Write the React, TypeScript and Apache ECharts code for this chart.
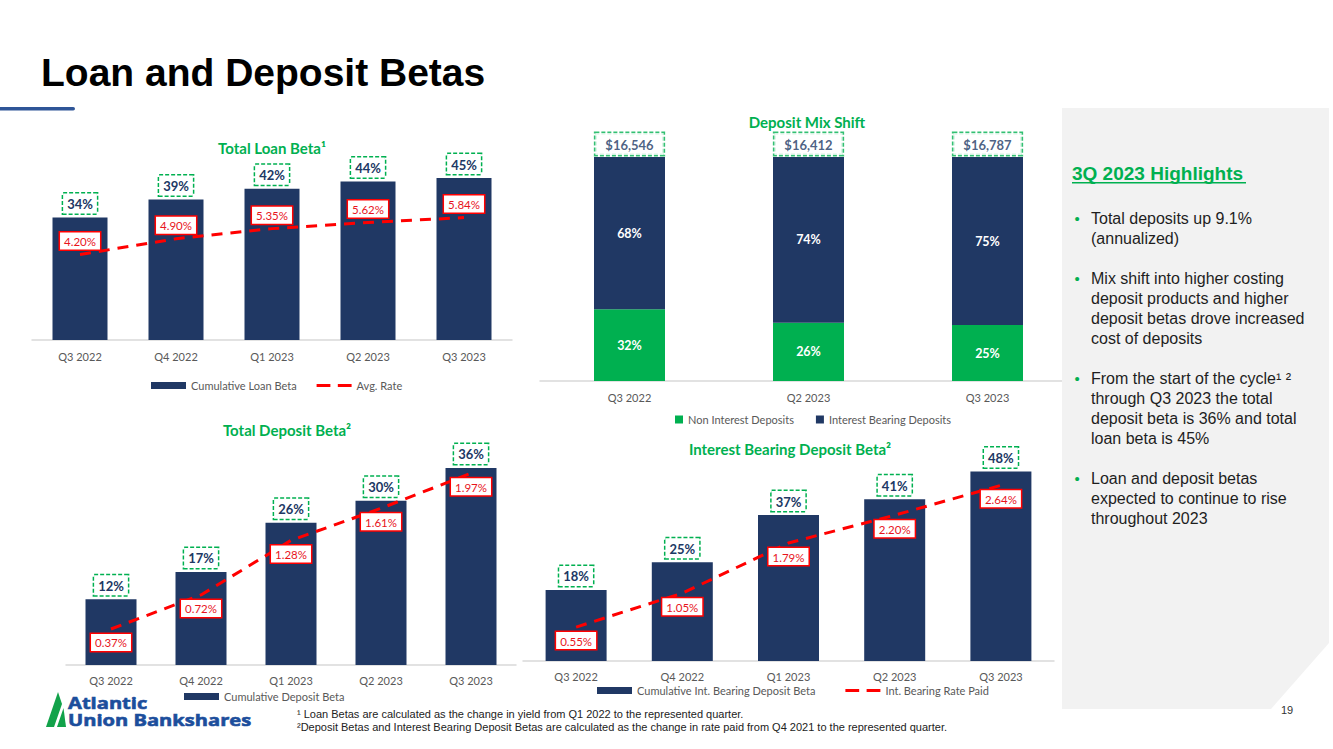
import React, { useEffect, useRef } from 'react';
import * as echarts from 'echarts';

// ---------- data ----------
const quarters = ['Q3 2022', 'Q4 2022', 'Q1 2023', 'Q2 2023', 'Q3 2023'];
const mixQuarters = ['Q3 2022', 'Q2 2023', 'Q3 2023'];

const loanBeta = [34, 39, 42, 44, 45];
const loanAvgRate = [4.2, 4.9, 5.35, 5.62, 5.84];

const nonInterestPct = [32, 26, 25];
const interestBearingPct = [68, 74, 75];
const depositTotals = [16546, 16412, 16787];

const depositBeta = [12, 17, 26, 30, 36];
const depositRatePaid = [0.37, 0.72, 1.28, 1.61, 1.97];

const ibDepositBeta = [18, 25, 37, 41, 48];
const ibRatePaid = [0.55, 1.05, 1.79, 2.2, 2.64];

const highlightBullets = [
  ['Total deposits up 9.1%', '(annualized)'],
  ['Mix shift into higher costing', 'deposit products and higher', 'deposit betas drove increased', 'cost of deposits'],
  ['From the start of the cycle\u00b9 \u00b2', 'through Q3 2023 the total', 'deposit beta is 36% and total', 'loan beta is 45%'],
  ['Loan and deposit betas', 'expected to continue to rise', 'throughout 2023'],
];

const footnotes = [
  '\u00b9 Loan Betas are calculated as the change in yield from Q1 2022 to the represented quarter.',
  '\u00b2Deposit Betas and Interest Bearing Deposit Betas are calculated as the change in rate paid from Q4 2021 to the represented quarter.',
];

const logoLines = ['Atlantic', 'Union Bankshares'];

// ---------- styles ----------
const NAVY = '#203864';
const GREEN = '#00B050';
const RED = '#FF0000';
const RED_TEXT = '#E8141C';
const GRAY = '#595959';
const FONT = 'Lato, "Noto Sans", sans-serif';
const ARIAL = '"Liberation Sans", Arial, sans-serif';
const DASH_ICON = 'path://M0,0H13V3H0Z M20,0H33V3H20Z';

const xAx = (gridIndex: number, data: string[], margin: number) => ({
  type: 'category',
  gridIndex,
  data,
  axisLine: { lineStyle: { color: '#D9D9D9', width: 1.5 } },
  axisTick: { show: false },
  axisLabel: { color: GRAY, fontSize: 11, fontFamily: FONT, margin },
});
const yAx = (gridIndex: number, min: number, max: number) => ({
  type: 'value',
  gridIndex,
  min,
  max,
  show: false,
});

const betaLabel = {
  show: true,
  position: 'top',
  distance: 4,
  formatter: '{c}%',
  color: NAVY,
  fontWeight: 'bold',
  fontSize: 13,
  fontFamily: FONT,
  padding: [4, 4, 3, 4],
  borderColor: GREEN,
  borderWidth: 1.5,
  borderType: [4, 2],
  backgroundColor: '#fff',
};

const rateLabel = (position: string) => ({
  show: true,
  position,
  distance: 5,
  formatter: (p: any) => Number(p.value).toFixed(2) + '%',
  color: RED_TEXT,
  fontSize: 11.5,
  fontFamily: FONT,
  padding: [3, 4, 2, 4],
  borderColor: RED,
  borderWidth: 1.5,
  backgroundColor: '#fff',
});

const betaBar = (name: string, xi: number, yi: number, data: number[], barWidth: number) => ({
  type: 'bar',
  name,
  xAxisIndex: xi,
  yAxisIndex: yi,
  data,
  barWidth,
  itemStyle: { color: NAVY },
  label: betaLabel,
  z: 2,
});

const rateLine = (name: string, xi: number, yi: number, data: number[], pos: string) => ({
  type: 'line',
  name,
  xAxisIndex: xi,
  yAxisIndex: yi,
  data,
  symbol: 'circle',
  symbolSize: 0,
  lineStyle: { color: RED, width: 3, type: [11, 8] },
  itemStyle: { color: RED },
  label: rateLabel(pos),
  z: 5,
});

const legendBase = {
  icon: 'rect',
  itemWidth: 35,
  itemHeight: 7,
  itemGap: 20,
  textStyle: { color: GRAY, fontSize: 11, fontFamily: FONT },
  selectedMode: false,
};

const chartTitle = (text: string, x: number, y: number) => ({
  type: 'text',
  x,
  y,
  style: {
    text,
    fill: GREEN,
    fontSize: 15,
    fontWeight: 'bold',
    fontFamily: FONT,
    align: 'center',
    verticalAlign: 'middle',
  },
});

function buildGraphics() {
  const g: any[] = [];
  // page title
  g.push({
    type: 'text',
    x: 41,
    y: 72,
    style: {
      text: 'Loan and Deposit Betas',
      fill: '#000',
      fontSize: 39,
      fontWeight: 'bold',
      fontFamily: ARIAL,
      verticalAlign: 'middle',
    },
  });
  g.push({ type: 'rect', shape: { x: 0, y: 107, width: 75, height: 3.5, r: [0, 2, 2, 0] }, style: { fill: '#2F5597' } });

  g.push(chartTitle('Total Loan Beta\u00b9', 272, 148));
  g.push(chartTitle('Deposit Mix Shift', 807, 122));
  g.push(chartTitle('Total Deposit Beta\u00b2', 287, 430));
  g.push(chartTitle('Interest Bearing Deposit Beta\u00b2', 790, 449));

  // highlights panel
  g.push({
    type: 'polygon',
    z: 10,
    shape: { points: [[1062, 108], [1329, 108], [1329, 643], [1271, 709], [1062, 709]] },
    style: { fill: '#F2F2F2' },
  });
  g.push({
    type: 'text',
    z: 11,
    x: 1072,
    y: 173,
    style: {
      text: '3Q 2023 Highlights',
      fill: GREEN,
      fontSize: 19,
      fontWeight: 'bold',
      fontFamily: ARIAL,
      verticalAlign: 'middle',
    },
  });
  g.push({ type: 'rect', z: 11, shape: { x: 1072, y: 182, width: 174, height: 1.6 }, style: { fill: GREEN } });

  const starts = [218, 278, 378, 478];
  highlightBullets.forEach((lines, bi) => {
    g.push({
      type: 'text',
      z: 11,
      x: 1077,
      y: starts[bi],
      style: { text: '\u2022', fill: GREEN, fontSize: 15, fontFamily: ARIAL, align: 'center', verticalAlign: 'middle' },
    });
    lines.forEach((line, li) => {
      g.push({
        type: 'text',
        z: 11,
        x: 1091,
        y: starts[bi] + li * 20,
        style: { text: line, fill: '#1E1E1E', fontSize: 16, fontFamily: ARIAL, verticalAlign: 'middle' },
      });
    });
  });

  g.push({
    type: 'text',
    z: 11,
    x: 1287,
    y: 710,
    style: { text: '19', fill: '#333', fontSize: 11, fontFamily: ARIAL, align: 'center', verticalAlign: 'middle' },
  });

  // footnotes
  footnotes.forEach((t, i) => {
    g.push({
      type: 'text',
      x: 297,
      y: 714 + i * 13,
      style: { text: t, fill: '#222', fontSize: 11, fontFamily: ARIAL, verticalAlign: 'middle' },
    });
  });

  // logo
  g.push({
    type: 'polygon',
    shape: { points: [[46, 727], [58, 692], [62, 704], [54, 727]] },
    style: { fill: '#12A24A' },
  });
  g.push({
    type: 'polygon',
    shape: { points: [[57, 727], [63.5, 708], [66, 727]] },
    style: { fill: '#12A24A' },
  });
  logoLines.forEach((t, i) => {
    g.push({
      type: 'text',
      x: 68,
      y: 702 + i * 17,
      scaleX: 1.22,
      style: {
        text: t,
        fill: '#1C4E9C',
        stroke: '#1C4E9C',
        lineWidth: 0.6,
        fontSize: 16.5,
        fontWeight: 'bold',
        fontFamily: '"Open Sans", sans-serif',
        verticalAlign: 'middle',
      },
    });
  });
  return g;
}

export default function App() {
  const ref = useRef<HTMLDivElement>(null);

  useEffect(() => {
    if (!ref.current) return;
    const chart = echarts.init(ref.current, undefined, { renderer: 'svg' });
    const mixTop = nonInterestPct.map((v, i) => v + interestBearingPct[i]);
    const mixInsideLabel = { show: true, position: 'inside', formatter: '{c}%', color: '#fff', fontWeight: 'bold', fontSize: 12.5, fontFamily: FONT };

    const option: any = {
      animation: false,
      backgroundColor: '#fff',
      textStyle: { fontFamily: FONT },
      grid: [
        { left: 32, top: 160, width: 480, height: 180 },
        { left: 540, top: 157, width: 537, height: 224 },
        { left: 66, top: 446, width: 450, height: 219 },
        { left: 523, top: 444, width: 531, height: 217 },
      ],
      xAxis: [
        xAx(0, quarters, 11),
        xAx(1, mixQuarters, 11),
        xAx(2, quarters, 10),
        xAx(3, quarters, 10),
      ],
      yAxis: [
        yAx(0, 0, 50),
        yAx(0, 0.4, 8.4),
        yAx(1, 0, 100),
        yAx(2, 0, 40),
        yAx(2, 0, 2.25),
        yAx(3, 0, 55),
        yAx(3, 0.05, 3.25),
      ],
      legend: [
        { ...legendBase, left: 146, top: 375, data: ['Cumulative Loan Beta', { name: 'Avg. Rate', icon: DASH_ICON }] },
        { ...legendBase, left: 670, top: 409, itemWidth: 8, itemHeight: 8, itemGap: 22, data: ['Non Interest Deposits', 'Interest Bearing Deposits'] },
        { ...legendBase, left: 179, top: 686, data: ['Cumulative Deposit Beta'] },
        { ...legendBase, left: 592, top: 680, itemGap: 30, data: ['Cumulative Int. Bearing Deposit Beta', { name: 'Int. Bearing Rate Paid', icon: DASH_ICON }] },
      ],
      graphic: { elements: buildGraphics() },
      series: [
        betaBar('Cumulative Loan Beta', 0, 0, loanBeta, 55),
        rateLine('Avg. Rate', 0, 1, loanAvgRate, 'top'),

        {
          type: 'bar',
          name: 'Non Interest Deposits',
          xAxisIndex: 1,
          yAxisIndex: 2,
          stack: 'mix',
          data: nonInterestPct,
          barWidth: 71,
          itemStyle: { color: GREEN },
          label: mixInsideLabel,
        },
        {
          type: 'bar',
          name: 'Interest Bearing Deposits',
          xAxisIndex: 1,
          yAxisIndex: 2,
          stack: 'mix',
          data: interestBearingPct,
          barWidth: 71,
          itemStyle: { color: NAVY },
          label: mixInsideLabel,
        },
        {
          type: 'scatter',
          name: 'Total Deposits',
          xAxisIndex: 1,
          yAxisIndex: 2,
          data: mixTop,
          symbolSize: 0,
          itemStyle: { color: 'transparent' },
          label: {
            show: true,
            position: 'top',
            distance: 2,
            formatter: (p: any) => '$' + depositTotals[p.dataIndex].toLocaleString('en-US'),
            color: NAVY,
            fontWeight: 'bold',
            fontSize: 13,
            fontFamily: FONT,
            padding: [5, 10, 4, 10],
            borderColor: GREEN,
            borderWidth: 1.5,
            borderType: [4, 2],
            backgroundColor: '#fff',
          },
          z: 6,
        },

        betaBar('Cumulative Deposit Beta', 2, 3, depositBeta, 51),
        rateLine('Total Deposit Rate Paid', 2, 4, depositRatePaid, 'bottom'),

        betaBar('Cumulative Int. Bearing Deposit Beta', 3, 5, ibDepositBeta, 61),
        rateLine('Int. Bearing Rate Paid', 3, 6, ibRatePaid, 'bottom'),
      ],
    };
    chart.setOption(option);
    return () => chart.dispose();
  }, []);

  return (
    <div
      ref={ref}
      style={{ position: 'absolute', left: 0, top: 0, width: 1333, height: 749, background: '#fff' }}
    />
  );
}
